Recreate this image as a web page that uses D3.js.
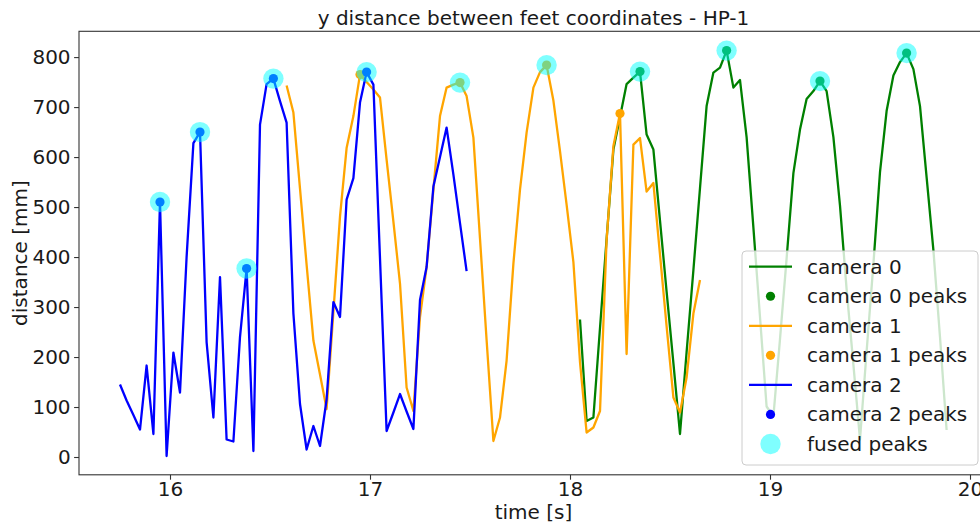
<!DOCTYPE html>
<html>
<head>
<meta charset="utf-8">
<script src="https://cdn.jsdelivr.net/npm/d3@7"></script>
<style>
  body { margin: 0; background: #fff; }
  svg { display: block; font-family: "DejaVu Sans", sans-serif; }
</style>
</head>
<body>
<div id="chart"></div>
<script>
// frame times [s] (30 fps) shared by the three cameras
const times = [
  15.750, 15.783, 15.817, 15.850, 15.883, 15.917, 15.950, 15.983, 16.017, 16.050,
  16.083, 16.117, 16.150, 16.183, 16.217, 16.250, 16.283, 16.317, 16.350, 16.383,
  16.417, 16.450, 16.483, 16.517, 16.550, 16.583, 16.617, 16.650, 16.683, 16.717,
  16.750, 16.783, 16.817, 16.850, 16.883, 16.917, 16.950, 16.983, 17.017, 17.050,
  17.083, 17.117, 17.150, 17.183, 17.217, 17.250, 17.283, 17.317, 17.350, 17.383,
  17.417, 17.450, 17.483, 17.517, 17.550, 17.583, 17.617, 17.650, 17.683, 17.717,
  17.750, 17.783, 17.817, 17.850, 17.883, 17.917, 17.950, 17.983, 18.017, 18.050,
  18.083, 18.117, 18.150, 18.183, 18.217, 18.250, 18.283, 18.317, 18.350, 18.383,
  18.417, 18.450, 18.483, 18.517, 18.550, 18.583, 18.617, 18.650, 18.683, 18.717,
  18.750, 18.783, 18.817, 18.850, 18.883, 18.917, 18.950, 18.983, 19.017, 19.050,
  19.083, 19.117, 19.150, 19.183, 19.217, 19.250, 19.283, 19.317, 19.350, 19.383,
  19.417, 19.450, 19.483, 19.517, 19.550, 19.583, 19.617, 19.650, 19.683, 19.717,
  19.750, 19.783, 19.817, 19.850, 19.883
];

// y distance [mm] per frame, null where the camera has no data
const camera0 = [
  null, null, null, null, null, null, null, null, null, null,
  null, null, null, null, null, null, null, null, null, null,
  null, null, null, null, null, null, null, null, null, null,
  null, null, null, null, null, null, null, null, null, null,
  null, null, null, null, null, null, null, null, null, null,
  null, null, null, null, null, null, null, null, null, null,
  null, null, null, null, null, null, null, null, null, 275,
  72, 79, 258, 436, 615, 680, 746, 759, 771, 645,
  615, 473, 331, 188, 46, 210, 374, 538, 702, 769,
  779, 813, 739, 754, 640, 459, 280, 101, 81, 236,
  397, 568, 655, 716, 732, 752, 732, 640, 503, 336,
  185, 35, 211, 386, 570, 692, 763, 790, 808, 776,
  702, 560, 414, 240, 54
];
const camera1 = [
  null, null, null, null, null, null, null, null, null, null,
  null, null, null, null, null, null, null, null, null, null,
  null, null, null, null, null, 743, 689, 537, 385, 233,
  165, 96, 290, 481, 618, 682, 765, 750, 735, 719,
  595, 471, 347, 139, 92, 280, 380, 535, 682, 739,
  745, 749, 722, 639, 437, 234, 32, 79, 193, 387,
  535, 649, 739, 770, 784, 713, 612, 505, 390, 190,
  49, 59, 92, 434, 622, 687, 206, 625, 638, 531,
  548, 405, 262, 119, 89, 159, 287, 354, null, null,
  null, null, null, null, null, null, null, null, null, null,
  null, null, null, null, null, null, null, null, null, null,
  null, null, null, null, null, null, null, null, null, null,
  null, null, null, null, null
];
const camera2 = [
  145, 113, 84, 55, 183, 46, 510, 2, 209, 129,
  400, 628, 650, 230, 79, 360, 35, 31, 240, 377,
  12, 665, 746, 757, 712, 669, 287, 106, 15, 62,
  22, 115, 310, 280, 515, 558, 709, 770, 745, 397,
  52, 89, 126, 91, 56, 314, 380, 541, 600, 659,
  565, 468, 372
];

// detected peaks per camera and fused
const camera0PeakTimes = [18.350, 18.783, 19.250, 19.683];
const camera0PeakValues = [771, 813, 752, 808];
const camera1PeakTimes = [16.950, 17.450, 17.883, 18.250];
const camera1PeakValues = [765, 749, 784, 687];
const camera2PeakTimes = [15.950, 16.150, 16.383, 16.517, 16.983];
const camera2PeakValues = [510, 650, 377, 757, 770];
const fusedPeakTimes = [15.950, 16.150, 16.383, 16.517, 16.983, 17.450, 17.883, 18.350, 18.783, 19.250, 19.683];
const fusedPeakValues = [510, 650, 377, 757, 770, 749, 784, 771, 813, 752, 808];

const xTicks = [16, 17, 18, 19, 20];
const yTicks = [0, 100, 200, 300, 400, 500, 600, 700, 800];

const width = 980, height = 527;
const plot = { left: 79, right: 988, top: 31.3, bottom: 474.8 };

const svg = d3.select("#chart").append("svg")
    .attr("width", width)
    .attr("height", height);

const x = d3.scaleLinear().domain([15.545, 20.09]).range([plot.left, plot.right]);
const y = d3.scaleLinear().domain([-35.6, 851.6]).range([plot.bottom, plot.top]);

// series to draw, in matplotlib plotting order
const series = [
  { label: "camera 0", color: "green", values: camera0, peakT: camera0PeakTimes, peakV: camera0PeakValues },
  { label: "camera 1", color: "orange", values: camera1, peakT: camera1PeakTimes, peakV: camera1PeakValues },
  { label: "camera 2", color: "blue", values: camera2, peakT: camera2PeakTimes, peakV: camera2PeakValues }
];

const line = d3.line()
    .defined(d => d[1] != null)
    .x(d => x(d[0]))
    .y(d => y(d[1]));

const g = svg.append("g");

series.forEach(s => {
    let pts = s.values.map((v, i) => [times[i], v]);
    g.append("path")
        .datum(pts)
        .attr("d", line)
        .attr("fill", "none")
        .attr("stroke", s.color)
        .attr("stroke-width", 2.3)
        .attr("stroke-linejoin", "round");

    g.selectAll(null)
        .data(d3.zip(s.peakT, s.peakV))
        .enter().append("circle")
        .attr("cx", d => x(d[0]))
        .attr("cy", d => y(d[1]))
        .attr("r", 4.6)
        .attr("fill", s.color);
});

// fused peaks on top, semi-transparent cyan
g.selectAll(null)
    .data(d3.zip(fusedPeakTimes, fusedPeakValues))
    .enter().append("circle")
    .attr("cx", d => x(d[0]))
    .attr("cy", d => y(d[1]))
    .attr("r", 10.2)
    .attr("fill", "cyan")
    .attr("fill-opacity", 0.5);

// frame
svg.append("rect")
    .attr("x", plot.left)
    .attr("y", plot.top)
    .attr("width", plot.right - plot.left)
    .attr("height", plot.bottom - plot.top)
    .attr("fill", "none")
    .attr("stroke", "#333")
    .attr("stroke-width", 1.1);

// x axis
const xAxis = svg.append("g")
    .attr("transform", `translate(0,${plot.bottom})`)
    .call(d3.axisBottom(x).tickValues(xTicks).tickSize(4.9).tickPadding(2.2).tickFormat(d3.format("d")));
xAxis.select(".domain").remove();
xAxis.selectAll(".tick line").attr("stroke", "#333").attr("stroke-width", 1.1);
xAxis.selectAll(".tick text")
    .attr("font-size", "20px")
    .attr("font-family", "DejaVu Sans, sans-serif")
    .attr("fill", "#1a1a1a");

// y axis
const yAxis = svg.append("g")
    .attr("transform", `translate(${plot.left},0)`)
    .call(d3.axisLeft(y).tickValues(yTicks).tickSize(4.9).tickPadding(3.5).tickFormat(d3.format("d")));
yAxis.select(".domain").remove();
yAxis.selectAll(".tick line").attr("stroke", "#333").attr("stroke-width", 1.1);
yAxis.selectAll(".tick text")
    .attr("font-size", "20px")
    .attr("font-family", "DejaVu Sans, sans-serif")
    .attr("fill", "#1a1a1a");

// title and axis labels
svg.append("text")
    .attr("x", (plot.left + plot.right) / 2)
    .attr("y", 25)
    .attr("text-anchor", "middle")
    .attr("font-size", "20px")
    .attr("fill", "#1a1a1a")
    .text("y distance between feet coordinates - HP-1");

svg.append("text")
    .attr("x", (plot.left + plot.right) / 2)
    .attr("y", 519)
    .attr("text-anchor", "middle")
    .attr("font-size", "20px")
    .attr("fill", "#1a1a1a")
    .text("time [s]");

svg.append("text")
    .attr("transform", `translate(27,${(plot.top + plot.bottom) / 2}) rotate(-90)`)
    .attr("text-anchor", "middle")
    .attr("font-size", "20px")
    .attr("fill", "#1a1a1a")
    .text("distance [mm]");

// legend
const legendItems = [
  { label: "camera 0", color: "green", kind: "line" },
  { label: "camera 0 peaks", color: "green", kind: "dot" },
  { label: "camera 1", color: "orange", kind: "line" },
  { label: "camera 1 peaks", color: "orange", kind: "dot" },
  { label: "camera 2", color: "blue", kind: "line" },
  { label: "camera 2 peaks", color: "blue", kind: "dot" },
  { label: "fused peaks", color: "cyan", kind: "fused" }
];

const legend = svg.append("g").attr("transform", "translate(742,251)");
legend.append("rect")
    .attr("width", 236)
    .attr("height", 214)
    .attr("rx", 4)
    .attr("fill", "white")
    .attr("fill-opacity", 0.8)
    .attr("stroke", "#cccccc")
    .attr("stroke-width", 1);

const rowStep = 29.55;
legendItems.forEach((it, i) => {
    let cy = 15.7 + i * rowStep;
    if (it.kind == "line") {
        legend.append("line")
            .attr("x1", 7).attr("x2", 50)
            .attr("y1", cy).attr("y2", cy)
            .attr("stroke", it.color)
            .attr("stroke-width", 2.3);
    } else if (it.kind == "dot") {
        legend.append("circle")
            .attr("cx", 28.5).attr("cy", cy).attr("r", 4.6)
            .attr("fill", it.color);
    } else {
        legend.append("circle")
            .attr("cx", 28.5).attr("cy", cy).attr("r", 10.2)
            .attr("fill", it.color)
            .attr("fill-opacity", 0.5);
    }
    legend.append("text")
        .attr("x", 65)
        .attr("y", cy + 7)
        .attr("font-size", "20px")
        .attr("fill", "#1a1a1a")
        .text(it.label);
});
</script>
</body>
</html>
